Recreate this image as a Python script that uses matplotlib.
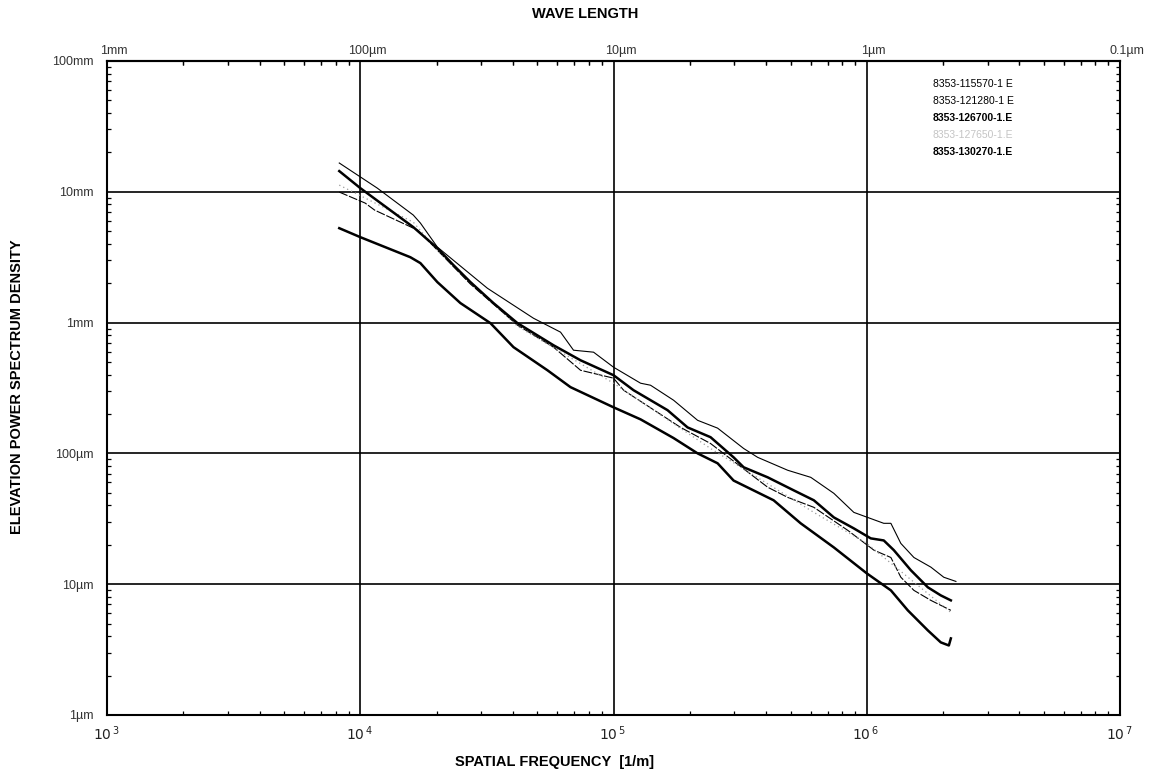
import matplotlib.pyplot as plt
import matplotlib.transforms as mtransforms
from matplotlib.ticker import FixedLocator, LogLocator, NullFormatter

plt.rcParams["font.family"] = ["Liberation Sans", "DejaVu Sans"]

# spatial frequency [1/m] and PSD [um] read per sample
series_names = [
    "8353-115570-1 E",
    "8353-121280-1 E",
    "8353-126700-1.E",
    "8353-127650-1.E",
    "8353-130270-1.E",
]

freq_115570 = [8260, 11670, 16190, 17270, 20150, 31770, 48280, 61770, 69500, 83400,
               1.0e5, 1.279e5, 1.40e5, 1.726e5, 2.148e5, 2.576e5, 3.265e5, 3.707e5,
               4.873e5, 6.01e5, 7.413e5, 8.89e5, 1.167e6, 1.245e6, 1.363e6, 1.535e6,
               1.791e6, 2.014e6, 2.249e6]
psd_115570 = [16600, 10670, 6640, 5770, 3780, 1830, 1080, 845, 615, 594,
              456, 344, 332, 255, 179, 156, 109, 93.3,
              74.3, 65.6, 49.5, 35.4, 29.2, 29.2, 20.5, 16.0,
              13.5, 11.3, 10.5]

freq_121280 = [8260, 10450, 11400, 16850, 20150, 27220, 41770, 57940, 74100, 1.0e5,
               1.096e5, 1.84e5, 2.416e5, 4.063e5, 4.873e5, 6.18e5, 8.414e5, 1.067e6,
               1.245e6, 1.363e6, 1.535e6, 1.791e6, 2.148e6]
psd_121280 = [9950, 8200, 7240, 5090, 3580, 1970, 955, 649, 432, 376,
              304, 158, 119, 55.1, 46.1, 38.7, 25.8, 18.2,
              16.0, 11.3, 8.97, 7.52, 6.31]

freq_126700 = [8260, 1.0e4, 16190, 20150, 23330, 27220, 33560, 41770, 57940, 74100,
               1.0e5, 1.20e5, 1.634e5, 1.96e5, 2.416e5, 2.979e5, 3.265e5, 4.063e5,
               5.144e5, 6.18e5, 7.413e5, 8.89e5, 1.037e6, 1.167e6, 1.279e6, 1.492e6,
               1.743e6, 1.96e6, 2.148e6]
psd_126700 = [14400, 10670, 5370, 3710, 2750, 2040, 1410, 990, 671, 515,
              396, 304, 214, 158, 133, 93.3, 78.3, 65.6,
              52.2, 43.8, 32.4, 26.7, 22.4, 21.6, 18.2, 12.8,
              9.46, 8.21, 7.52]

freq_127650 = [8260, 16190, 20150, 41770, 1.0e5, 2.416e5, 6.18e5, 1.0e6, 2.148e6]
psd_127650 = [11250, 5860, 3580, 938, 344, 109, 35.4, 20.5, 6.08]

freq_130270 = [8260, 1.0e4, 15770, 17270, 20150, 24850, 32660, 40270, 54830, 67610,
               1.0e5, 1.279e5, 1.726e5, 2.148e5, 2.576e5, 2.979e5, 4.287e5, 5.483e5,
               7.413e5, 1.0e6, 1.245e6, 1.452e6, 1.743e6, 1.96e6, 2.109e6, 2.148e6]
psd_130270 = [5270, 4500, 3160, 2850, 2040, 1410, 990, 649, 432, 321,
              225, 182, 131, 100, 84, 62, 43.8, 29.2,
              19.1, 12.1, 8.97, 6.31, 4.43, 3.59, 3.40, 3.85]

freq_ticks = [1e3, 1e4, 1e5, 1e6, 1e7]
freq_labels = ["$10^{\\,3}$", "$10^{\\,4}$", "$10^{\\,5}$", "$10^{\\,6}$", "$10^{\\,7}$"]
wave_labels = ["1mm", "100µm", "10µm", "1µm", "0.1µm"]
psd_ticks = [1, 10, 100, 1e3, 1e4, 1e5]
psd_labels = ["1µm", "10µm", "100µm", "1mm", "10mm", "100mm"]

narrow = ["Liberation Sans Narrow", "Liberation Sans", "DejaVu Sans"]

fig = plt.figure(figsize=(11.61, 7.82), dpi=100)
ax = fig.add_axes([0.0922, 0.0857, 0.8725, 0.8363])

ax.plot(freq_115570, psd_115570, color="black", lw=0.8)
ax.plot(freq_121280, psd_121280, color="black", lw=0.8, dashes=(8, 1.5))
ax.plot(freq_127650, psd_127650, color="#9a9a9a", lw=0.9, ls=(0, (1, 2.5)))
ax.plot(freq_126700, psd_126700, color="black", lw=1.8)
ax.plot(freq_130270, psd_130270, color="black", lw=1.8)

ax.set_xscale("log")
ax.set_yscale("log")
ax.set_xlim(1e3, 1e7)
ax.set_ylim(1, 1e5)

ax.xaxis.set_major_locator(FixedLocator(freq_ticks))
ax.yaxis.set_major_locator(FixedLocator(psd_ticks))
ax.xaxis.set_minor_locator(LogLocator(base=10, subs=range(2, 10)))
ax.yaxis.set_minor_locator(LogLocator(base=10, subs=range(2, 10)))
ax.xaxis.set_minor_formatter(NullFormatter())
ax.yaxis.set_minor_formatter(NullFormatter())
ax.set_xticklabels(freq_labels)
ax.set_yticklabels(psd_labels)

ax.grid(True, which="major", color="black", lw=1.2)
ax.tick_params(which="major", length=0, pad=7)
ax.tick_params(which="minor", direction="in", length=3, width=0.9,
               top=True, right=True)
ax.tick_params(axis="x", labelsize=10, colors="#222222")
ax.tick_params(axis="y", labelsize=9, colors="#333333", pad=10)
for lbl in ax.get_yticklabels():
    lbl.set_family(narrow)
for lbl in ax.get_xticklabels():
    lbl.set_horizontalalignment("right")
    lbl.set_transform(lbl.get_transform() +
                      mtransforms.ScaledTranslation(9 / 72, 0, fig.dpi_scale_trans))
for sp in ax.spines.values():
    sp.set_linewidth(1.5)

top = ax.secondary_xaxis("top")
top.xaxis.set_major_locator(FixedLocator(freq_ticks))
top.xaxis.set_minor_locator(LogLocator(base=10, subs=range(2, 10)))
top.xaxis.set_minor_formatter(NullFormatter())
top.set_xticklabels(wave_labels)
top.tick_params(which="major", length=0, pad=3, labelsize=9, colors="#333333")
top.tick_params(which="minor", direction="in", length=3, width=0.9)
top.spines["top"].set_linewidth(1.5)
for lbl in top.get_xticklabels():
    lbl.set_family(narrow)
    lbl.set_transform(lbl.get_transform() +
                      mtransforms.ScaledTranslation(5 / 72, 0, fig.dpi_scale_trans))

fig.text(0.504, 0.982, "WAVE LENGTH", ha="center", va="center",
         fontsize=10.5, fontweight="bold")
fig.text(0.478, 0.025, "SPATIAL FREQUENCY  [1/m]", ha="center", va="center",
         fontsize=10.5, fontweight="bold")
fig.text(0.015, 0.505, "ELEVATION POWER SPECTRUM DENSITY", ha="center", va="center",
         rotation=90, fontsize=10.5, fontweight="bold")

# sample list in the upper right corner
legend_weights = ["normal", "normal", "bold", "normal", "bold"]
legend_colors = ["black", "black", "black", "#c4c4c4", "black"]
for i, name in enumerate(series_names):
    ax.text(0.815, 0.965 - i * 0.026, name, transform=ax.transAxes,
            fontsize=7.5, fontweight=legend_weights[i], color=legend_colors[i],
            family=narrow, ha="left", va="center")

fig.savefig("out.png", dpi=100)
